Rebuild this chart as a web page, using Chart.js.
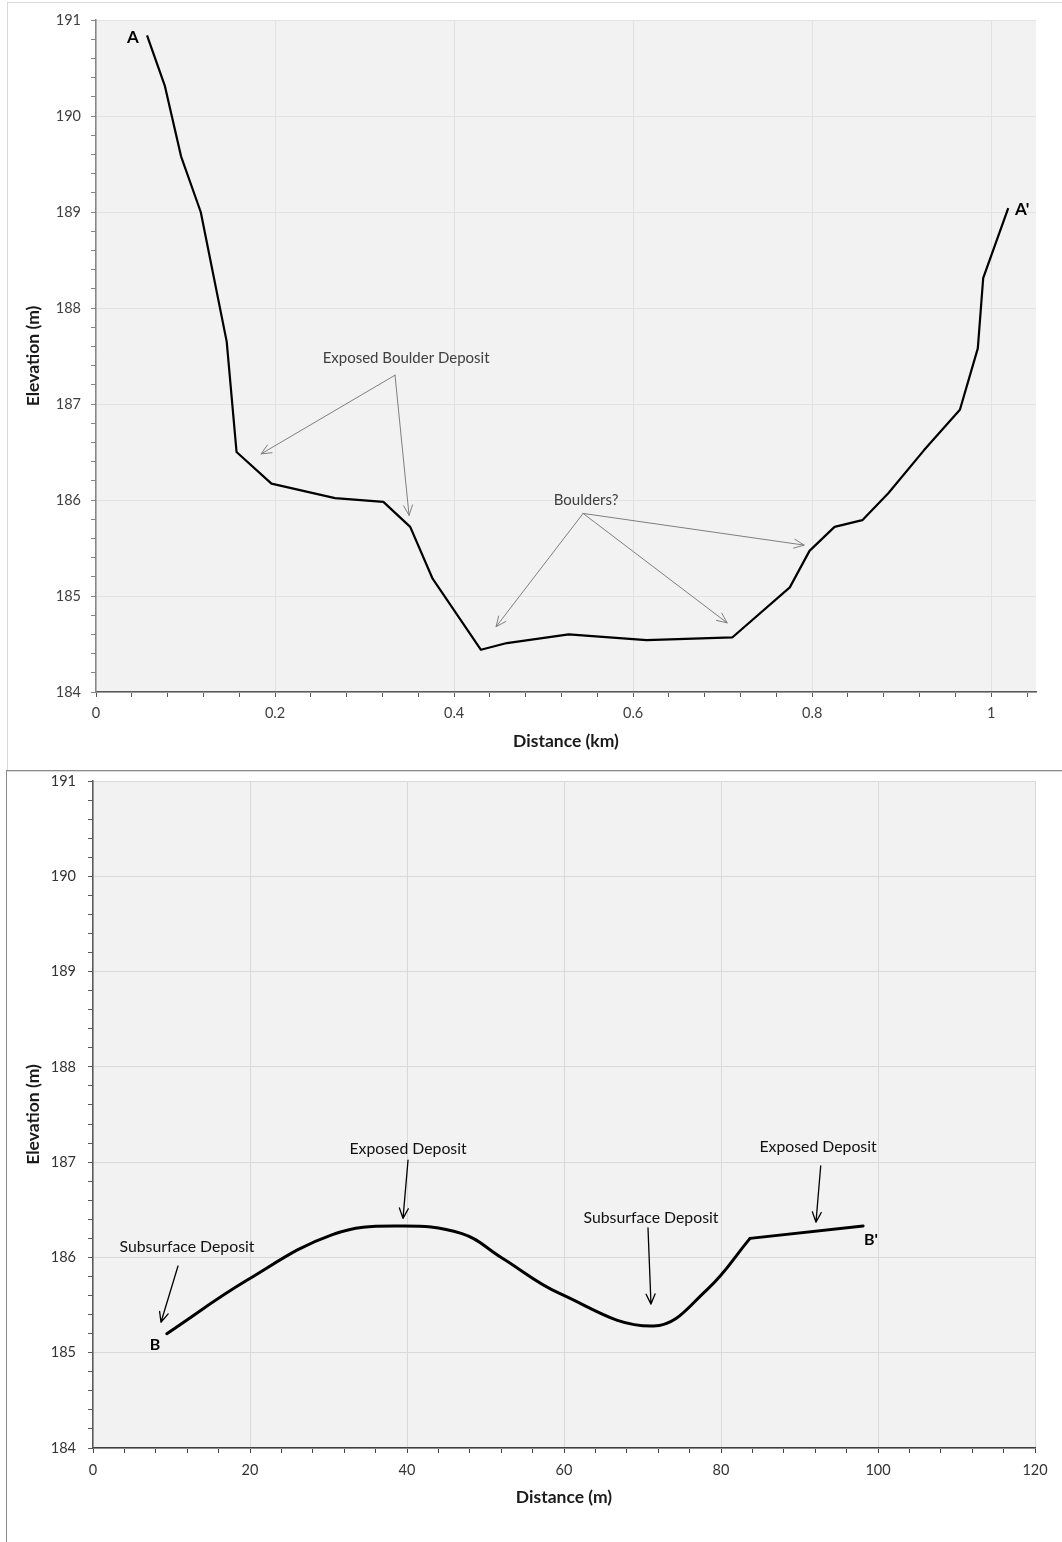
<!DOCTYPE html>
<html>
<head>
<meta charset="utf-8">
<script src="https://cdn.jsdelivr.net/npm/chart.js@4.4.1/dist/chart.umd.min.js"></script>
<style>
  html, body { margin: 0; padding: 0; background: #ffffff; }
  body { position: relative; width: 1062px; height: 1542px; overflow: hidden; }
  .panel { position: absolute; box-sizing: border-box; }
  #panelA { left: 7px; top: 2px; width: 1080px; height: 770px; border: 1px solid #d9d9d9; }
  #panelB { left: 6px; top: 770px; width: 1080px; height: 800px; border: 1px solid #8c8c8c; }
  canvas { position: absolute; }
  #profileA { left: 8px; top: 4px; }
  #profileB { left: 7px; top: 772px; }
</style>
</head>
<body>
<div class="panel" id="panelA"></div>
<div class="panel" id="panelB"></div>
<canvas id="profileA" width="1054" height="766"></canvas>
<canvas id="profileB" width="1055" height="770"></canvas>
<script>
// Cross-section A–A' (distance in km, elevation in m)
const profileADistanceKm = [0.057, 0.077, 0.095, 0.117, 0.146, 0.157, 0.196, 0.267, 0.321, 0.351, 0.376,
  0.430, 0.459, 0.528, 0.615, 0.711, 0.775, 0.797, 0.825, 0.856, 0.885, 0.925, 0.965, 0.985, 0.991, 1.019];
const profileAElevation = [190.84, 190.31, 189.58, 189.00, 187.65, 186.50, 186.17, 186.02, 185.98, 185.72, 185.18,
  184.44, 184.51, 184.60, 184.54, 184.57, 185.09, 185.47, 185.72, 185.79, 186.07, 186.52, 186.94, 187.58, 188.31, 189.04];

// Cross-section B–B' (distance in m, elevation in m): smoothed reach, then straight reach
const profileBSmoothDistance = [9.4, 19.6, 30.5, 39.0, 47.0, 52.0, 59.5, 71.4, 78.2, 83.7];
const profileBSmoothElevation = [185.20, 185.76, 186.24, 186.33, 186.25, 186.00, 185.62, 185.28, 185.66, 186.20];
const profileBStraightDistance = [83.7, 98.1];
const profileBStraightElevation = [186.20, 186.33];

// Axis ranges and tick steps
const axisA = { xMin: 0, xMax: 1.05, xMajor: 0.2, xMinor: 0.04, yMin: 184, yMax: 191, yMajor: 1, yMinor: 0.2 };
const axisB = { xMin: 0, xMax: 120, xMajor: 20, xMinor: 4, yMin: 184, yMax: 191, yMajor: 1, yMinor: 0.2 };

// Callout labels and arrows, placed in axis units
const notesA = {
  labels: [
    { text: 'A', x: 0.0413, y: 190.82, font: 'bold 17px Lato', color: '#000000' },
    { text: "A'", x: 1.0346, y: 189.03, font: 'bold 17px Lato', color: '#000000' },
    { text: 'Exposed Boulder Deposit', x: 0.3464, y: 187.48, font: '15px Lato', color: '#404040' },
    { text: 'Boulders?', x: 0.5475, y: 186.0, font: '15px Lato', color: '#404040' }
  ],
  arrows: [
    { from: [0.334, 187.30], to: [0.1844, 186.48] },
    { from: [0.334, 187.30], to: [0.3497, 185.84] },
    { from: [0.5441, 185.86], to: [0.4469, 184.68] },
    { from: [0.5441, 185.86], to: [0.705, 184.72] },
    { from: [0.5441, 185.86], to: [0.791, 185.53] }
  ],
  arrowColor: '#7f7f7f', arrowWidth: 1
};
const notesB = {
  labels: [
    { text: 'Subsurface Deposit', x: 11.97, y: 186.11, font: '15.8px Lato', color: '#111111' },
    { text: 'B', x: 7.9, y: 185.08, font: 'bold 16px Lato', color: '#000000' },
    { text: 'Exposed Deposit', x: 40.13, y: 187.14, font: '15.8px Lato', color: '#111111' },
    { text: 'Subsurface Deposit', x: 71.08, y: 186.42, font: '15.8px Lato', color: '#111111' },
    { text: 'Exposed Deposit', x: 92.36, y: 187.16, font: '15.8px Lato', color: '#111111' },
    { text: "B'", x: 99.1, y: 186.18, font: 'bold 16px Lato', color: '#000000' }
  ],
  arrows: [
    { from: [10.83, 185.91], to: [8.66, 185.32] },
    { from: [40.13, 187.02], to: [39.49, 186.41] },
    { from: [70.7, 186.31], to: [71.08, 185.51] },
    { from: [92.7, 186.96], to: [92.1, 186.37] }
  ],
  arrowColor: '#000000', arrowWidth: 1.3
};

function onStep(v, step) {
  const r = v / step;
  return Math.abs(r - Math.round(r)) < 1e-6;
}
function toPoints(xs, ys) { return xs.map((x, i) => ({ x: x, y: ys[i] })); }

const plotBackground = {
  id: 'plotBackground',
  beforeDraw(chart) {
    const { ctx, chartArea: a } = chart;
    ctx.save();
    ctx.fillStyle = '#f2f2f2';
    ctx.fillRect(a.left, a.top, a.right - a.left, a.bottom - a.top);
    ctx.restore();
  }
};

function drawArrow(ctx, x1, y1, x2, y2, head) {
  const ang = Math.atan2(y2 - y1, x2 - x1);
  const spread = Math.PI / 7.5;
  ctx.beginPath();
  ctx.moveTo(x1, y1);
  ctx.lineTo(x2, y2);
  ctx.moveTo(x2 - head * Math.cos(ang - spread), y2 - head * Math.sin(ang - spread));
  ctx.lineTo(x2, y2);
  ctx.lineTo(x2 - head * Math.cos(ang + spread), y2 - head * Math.sin(ang + spread));
  ctx.stroke();
}

const callouts = {
  id: 'callouts',
  afterDatasetsDraw(chart, args, opts) {
    const notes = opts.notes;
    if (!notes) return;
    const { ctx, scales: { x, y } } = chart;
    ctx.save();
    ctx.strokeStyle = notes.arrowColor;
    ctx.lineWidth = notes.arrowWidth;
    ctx.lineCap = 'round';
    ctx.lineJoin = 'round';
    notes.arrows.forEach(a => {
      drawArrow(ctx, x.getPixelForValue(a.from[0]), y.getPixelForValue(a.from[1]),
        x.getPixelForValue(a.to[0]), y.getPixelForValue(a.to[1]), 11);
    });
    ctx.textAlign = 'center';
    ctx.textBaseline = 'middle';
    notes.labels.forEach(l => {
      ctx.font = l.font;
      ctx.fillStyle = l.color;
      ctx.fillText(l.text, x.getPixelForValue(l.x), y.getPixelForValue(l.y));
    });
    ctx.restore();
  }
};

function buildProfile(canvas, o) {
  const tickFont = { family: 'Lato', size: 14.5 };
  const titleFont = { family: 'Lato', size: 17.5, weight: 'bold' };
  return new Chart(canvas, {
    type: 'line',
    data: { datasets: o.datasets },
    plugins: [plotBackground, callouts],
    options: {
      responsive: false,
      animation: false,
      devicePixelRatio: 1,
      layout: { padding: o.padding },
      plugins: {
        legend: { display: false },
        tooltip: { enabled: false },
        callouts: { notes: o.notes }
      },
      elements: { point: { radius: 0 } },
      scales: {
        x: {
          type: 'linear',
          min: o.axis.xMin, max: o.axis.xMax,
          ticks: {
            stepSize: o.axis.xMinor, includeBounds: false, autoSkip: false, maxRotation: 0,
            padding: o.xTickPad, color: o.tickColor, font: tickFont,
            callback: v => onStep(v, o.axis.xMajor) ? String(Math.round(v * 1000) / 1000) : ''
          },
          grid: {
            color: c => (c.tick && onStep(c.tick.value, o.axis.xMajor)) ? o.gridColor : 'rgba(0,0,0,0)',
            tickColor: o.xAxisColor, tickLength: 5, lineWidth: 1
          },
          border: { color: o.xAxisColor, width: 1.5 },
          title: { display: true, text: o.xTitle, color: '#1a1a1a', font: titleFont, padding: { top: 0, bottom: o.xTitlePad } },
          afterFit: s => { s.height = o.xAxisHeight; s.paddingLeft = 0; s.paddingRight = 0; }
        },
        y: {
          type: 'linear',
          min: o.axis.yMin, max: o.axis.yMax,
          ticks: {
            stepSize: o.axis.yMinor, autoSkip: false,
            padding: o.yTickPad, color: o.tickColor, font: tickFont,
            callback: v => onStep(v, o.axis.yMajor) ? String(Math.round(v)) : ''
          },
          grid: {
            color: c => (c.tick && onStep(c.tick.value, o.axis.yMajor)) ? o.gridColor : 'rgba(0,0,0,0)',
            tickColor: o.yAxisColor, tickLength: 5, lineWidth: 1
          },
          border: { color: o.yAxisColor, width: 1.5 },
          title: { display: true, text: 'Elevation (m)', color: '#1a1a1a', font: titleFont, padding: { top: o.yTitlePad, bottom: 0 } },
          afterFit: s => { s.width = o.yAxisWidth; s.paddingTop = 0; s.paddingBottom = 0; }
        }
      }
    }
  });
}

buildProfile(document.getElementById('profileA'), {
  axis: axisA,
  datasets: [{
    data: toPoints(profileADistanceKm, profileAElevation),
    borderColor: '#000000', borderWidth: 2.2, tension: 0, borderJoinStyle: 'round'
  }],
  notes: notesA,
  padding: { left: 0, top: 16, right: 26, bottom: 0 },
  xAxisHeight: 78, yAxisWidth: 88,
  xTickPad: 8, yTickPad: 10, xTitlePad: 18.5, yTitlePad: 14.5,
  xTitle: 'Distance (km)',
  tickColor: '#404040', gridColor: '#e2e2e2', xAxisColor: '#595959', yAxisColor: '#868686'
});

buildProfile(document.getElementById('profileB'), {
  axis: axisB,
  datasets: [
    {
      data: toPoints(profileBSmoothDistance, profileBSmoothElevation),
      borderColor: '#000000', borderWidth: 3, tension: 0.4, borderCapStyle: 'round'
    },
    {
      data: toPoints(profileBStraightDistance, profileBStraightElevation),
      borderColor: '#000000', borderWidth: 3, tension: 0, borderCapStyle: 'round'
    }
  ],
  notes: notesB,
  padding: { left: 0, top: 9, right: 27, bottom: 0 },
  xAxisHeight: 94, yAxisWidth: 86,
  xTickPad: 9, yTickPad: 12, xTitlePad: 34.5, yTitlePad: 15.5,
  xTitle: 'Distance (m)',
  tickColor: '#333333', gridColor: '#d9d9d9', xAxisColor: '#404040', yAxisColor: '#595959'
});
</script>
</body>
</html>
